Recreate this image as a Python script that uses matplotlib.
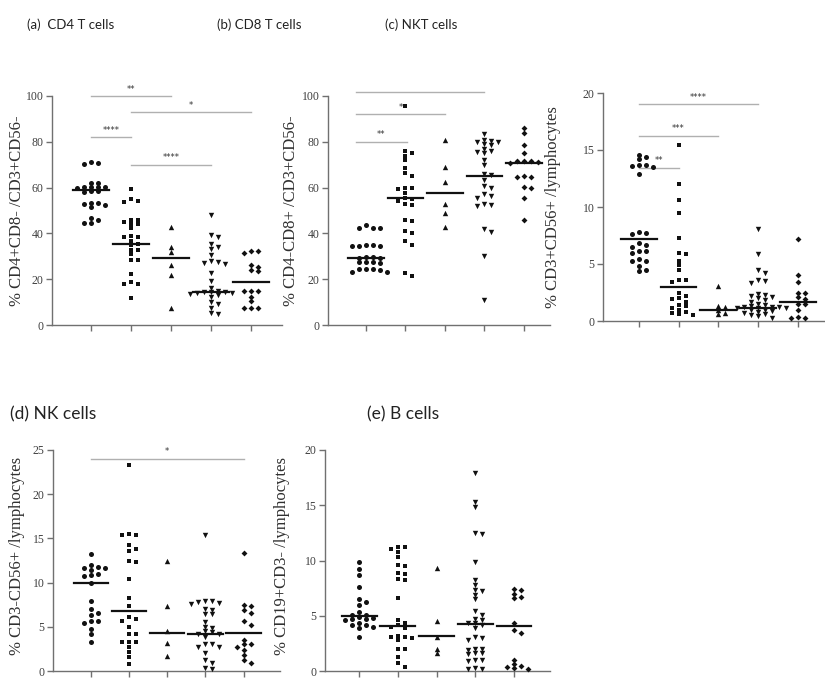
import numpy as np
import matplotlib.pyplot as plt

W, H = 825, 679

markers = ['o', 's', '^', 'v', 'D']
msizes = [13, 12, 15, 15, 9]

# (a) CD4 T cells
cd4_g1 = [71.0, 70.6, 70.3, 62.2, 61.9, 60.3, 60.1, 60.2, 60.0, 60.4, 58.3, 58.2, 58.4,
          53.4, 53.1, 52.8, 52.5, 51.5, 46.6, 45.9, 44.7, 44.5]
cd4_g2 = [59.2, 55.0, 54.0, 53.8, 46.0, 45.9, 45.1, 44.1, 44.0, 42.2, 38.9, 38.6, 38.6,
          36.8, 35.5, 35.0, 32.7, 32.6, 31.0, 28.4, 28.3, 22.1, 18.9, 17.9, 17.8, 11.6]
cd4_g3 = [43.0, 34.2, 32.0, 26.2, 21.8, 7.3]
cd4_g4 = [48.0, 39.5, 38.5, 35.5, 34.0, 33.0, 30.5, 28.0, 27.5, 27.0, 26.5, 22.5, 19.0,
          16.0, 14.8, 14.6, 14.5, 14.2, 14.0, 13.8, 13.5, 13.0, 12.4, 10.2, 9.0, 7.3, 5.1, 5.0]
cd4_g5 = [32.1, 32.2, 31.5, 26.2, 25.5, 24.0, 23.7, 14.8, 14.9, 14.7, 12.4, 10.6, 7.4, 7.5, 7.3]
cd4_medians = [58.8, 35.4, 29.1, 14.6, 18.9]
cd4_bars = [(0, 2, 100.0, '**'), (1, 4, 92.9, '*'), (0, 1, 82.0, '****'), (1, 3, 69.9, '****')]

# (b) CD8 T cells
cd8_g1 = [43.5, 42.5, 42.5, 42.5, 34.8, 34.6, 34.7, 34.5, 34.9, 29.5, 29.6, 29.4, 29.3,
          27.5, 27.6, 27.2, 27.4, 24.5, 24.3, 24.4, 24.2, 23.0, 23.1]
cd8_g2 = [95.5, 76.0, 75.0, 74.0, 72.0, 68.5, 66.5, 65.0, 60.0, 59.5, 60.0, 57.5, 55.5,
          55.0, 54.0, 53.0, 52.5, 46.0, 45.5, 41.0, 40.0, 36.5, 35.0, 22.5, 21.5]
cd8_g3 = [81.0, 69.0, 62.5, 53.0, 49.0, 43.0]
cd8_g4 = [83.5, 80.0, 80.5, 80.0, 81.0, 78.5, 79.0, 77.0, 76.0, 75.5, 75.0, 72.0, 70.0,
          66.0, 65.5, 63.5, 60.5, 60.0, 57.0, 56.5, 55.5, 53.0, 52.5, 52.0, 42.0, 40.5, 30.0, 11.0]
cd8_g5 = [86.0, 84.0, 78.5, 75.0, 71.8, 71.5, 71.6, 71.3, 70.6, 65.0, 64.8, 64.5, 60.2,
          60.0, 55.3, 45.9]
cd8_medians = [29.4, 55.5, 57.5, 65.0, 70.6]
cd8_bars = [(-0.25, 3, 101.9, ''), (-0.25, 2, 92.1, '*'), (-0.25, 1.03, 80.1, '**')]

# (c) NKT cells
nkt_g1 = [14.6, 14.4, 14.2, 13.7, 13.6, 13.7, 13.5, 12.9, 7.8, 7.7, 7.6, 6.8, 6.7, 6.5,
          6.1, 6.0, 6.1, 5.4, 5.3, 5.3, 4.8, 4.5, 4.4]
nkt_g2 = [15.4, 12.0, 10.6, 9.5, 7.3, 6.0, 5.9, 5.3, 4.9, 4.5, 3.6, 3.6, 3.4, 2.5, 2.2,
          2.0, 1.9, 1.7, 1.4, 1.3, 1.1, 1.0, 0.8, 0.7, 0.65, 0.5]
nkt_g3 = [3.05, 1.3, 1.2, 0.95, 0.7, 0.6]
nkt_g4 = [8.1, 5.9, 4.5, 4.2, 3.6, 3.5, 3.3, 2.4, 2.3, 2.2, 2.1, 2.0, 1.8, 1.7, 1.5, 1.4,
          1.3, 1.25, 1.2, 1.2, 1.15, 1.1, 1.1, 1.0, 0.95, 0.9, 0.8, 0.7, 0.6, 0.5, 0.4, 0.3]
nkt_g5 = [7.2, 4.0, 3.4, 2.5, 2.45, 2.1, 1.9, 1.5, 1.5, 1.0, 0.3, 0.35, 0.3]
nkt_medians = [7.16, 3.0, 1.0, 1.15, 1.7]
nkt_bars = [(0, 3, 19.0, '****'), (0, 2, 16.25, '***'), (0, 1, 13.46, '**')]

# (d) NK cells
nk_g1 = [13.2, 12.0, 11.8, 11.7, 11.6, 11.4, 11.0, 10.9, 10.8, 10.0, 7.9, 7.0, 6.6, 6.3,
         5.7, 5.6, 5.4, 4.8, 4.2, 3.3]
nk_g2 = [23.3, 15.4, 15.4, 15.5, 14.2, 13.8, 13.6, 12.5, 12.3, 10.4, 8.3, 7.4, 6.1, 5.9,
         5.7, 5.0, 4.2, 4.2, 3.3, 3.3, 3.3, 2.7, 2.2, 1.6, 0.8]
nk_g3 = [12.4, 7.3, 4.5, 3.2, 1.75]
nk_g4 = [15.4, 7.9, 7.9, 7.8, 7.7, 7.6, 7.0, 6.9, 6.5, 6.4, 5.5, 5.0, 4.9, 4.5, 4.4, 4.2,
         4.2, 3.8, 3.1, 3.0, 2.7, 2.7, 2.0, 1.2, 0.9, 0.3, 0.2]
nk_g5 = [13.3, 7.5, 7.4, 6.9, 6.6, 5.6, 5.2, 3.5, 3.0, 3.1, 2.7, 2.4, 1.8, 1.3, 0.9]
nk_medians = [10.0, 6.8, 4.3, 4.2, 4.3]
nk_bars = [(0, 4, 24.0, '*')]

# (e) B cells
b_g1 = [9.9, 9.2, 8.7, 7.6, 6.5, 6.2, 6.0, 5.3, 5.1, 5.1, 4.9, 4.8, 4.7, 4.7, 4.6, 4.3,
        4.2, 4.2, 4.0, 3.9, 3.1]
b_g2 = [11.2, 11.2, 11.0, 10.8, 10.3, 9.6, 9.5, 8.9, 8.8, 8.3, 8.2, 6.6, 4.6, 4.3, 4.2,
        4.0, 3.9, 3.1, 3.1, 3.2, 3.0, 2.8, 2.0, 2.0, 1.3, 0.7, 0.4]
b_g3 = [9.3, 4.5, 3.1, 2.0, 1.65]
b_g4 = [17.9, 15.3, 14.8, 12.5, 12.4, 9.9, 8.2, 7.8, 7.3, 7.2, 6.9, 6.5, 5.4, 5.1, 4.7,
        4.6, 4.3, 4.2, 4.3, 3.9, 3.1, 3.0, 2.8, 2.0, 2.0, 1.9, 1.6, 1.6, 1.5, 1.0, 1.0, 0.9,
        0.3, 0.2, 0.2]
b_g5 = [7.4, 7.3, 7.0, 6.7, 6.6, 4.3, 3.7, 3.4, 1.0, 0.6, 0.45, 0.4, 0.25, 0.2]
b_medians = [4.95, 4.05, 3.2, 4.26, 4.1]
b_bars = []

panels = [
    dict(title='(a)  CD4 T cells', title_xy=(27, 25), tsize=9.5,
         groups=[cd4_g1, cd4_g2, cd4_g3, cd4_g4, cd4_g5], med=cd4_medians, bars=cd4_bars,
         ylabel='% CD4+CD8- /CD3+CD56-', box=(52, 96, 282, 325), label_at=(25, 0.5),
         ylim=(0, 100), yticks=[0, 20, 40, 60, 80, 100], xlim=(-0.975, 4.775)),
    dict(title='(b) CD8 T cells', title_xy=(217, 25), tsize=9.5,
         groups=[cd8_g1, cd8_g2, cd8_g3, cd8_g4, cd8_g5], med=cd8_medians, bars=cd8_bars,
         ylabel='% CD4-CD8+ /CD3+CD56-', box=(328, 96, 550, 325), label_at=(299, 0.5),
         ylim=(0, 100), yticks=[0, 20, 40, 60, 80, 100], xlim=(-0.96, 4.66)),
    dict(title='(c) NKT cells', title_xy=(385, 25), tsize=9.5,
         groups=[nkt_g1, nkt_g2, nkt_g3, nkt_g4, nkt_g5], med=nkt_medians, bars=nkt_bars,
         ylabel='% CD3+CD56+ /lymphocytes', box=(603, 93, 825, 321), label_at=(561, 0.5),
         ylim=(0, 20), yticks=[0, 5, 10, 15, 20], xlim=(-0.9, 4.68)),
    dict(title='(d) NK cells', title_xy=(10, 414), tsize=12.5,
         groups=[nk_g1, nk_g2, nk_g3, nk_g4, nk_g5], med=nk_medians, bars=nk_bars,
         ylabel='% CD3-CD56+ /lymphocytes', box=(53, 450, 280, 671), label_at=(25, 0.52),
         ylim=(0, 25), yticks=[0, 5, 10, 15, 20, 25], xlim=(-0.99, 4.95)),
    dict(title='(e) B cells', title_xy=(367, 414), tsize=12.5,
         groups=[b_g1, b_g2, b_g3, b_g4, b_g5], med=b_medians, bars=b_bars,
         ylabel='% CD19+CD3- /lymphocytes', box=(325, 450, 550, 671), label_at=(290, 0.52),
         ylim=(0, 20), yticks=[0, 5, 10, 15, 20], xlim=(-0.88, 4.93)),
]


def swarm(vals, ppu_x, ppu_y, dx=7.0, dy=3.8):
    # spread points sideways when they sit too close in value
    vals = np.asarray(vals, dtype=float)
    order = np.argsort(vals)[::-1]
    placed = []
    xs = np.zeros(len(vals))
    for k in order:
        y = vals[k] * ppu_y
        for step in [0, 1, -1, 2, -2, 3, -3, 4, -4, 5, -5]:
            x = step * dx
            if all(abs(x - px) >= dx * 0.9 or abs(y - py) >= dy for px, py in placed):
                break
        placed.append((x, y))
        xs[k] = x / ppu_x
    return xs


fig = plt.figure(figsize=(W / 100, H / 100), dpi=100)
grey = '#707070'

for p in panels:
    l, t, r, b = p['box']
    ax = fig.add_axes([l / W, 1 - b / H, (r - l) / W, (b - t) / H])
    ax.set_xlim(*p['xlim'])
    ax.set_ylim(*p['ylim'])
    ppu_x = (r - l) / (p['xlim'][1] - p['xlim'][0])
    ppu_y = (b - t) / (p['ylim'][1] - p['ylim'][0])

    for i, g in enumerate(p['groups']):
        xs = i + swarm(g, ppu_x, ppu_y)
        ax.scatter(xs, g, marker=markers[i], s=msizes[i], color='#111111',
                   linewidths=0, clip_on=False, zorder=3)
        ax.plot([i - 0.45, i + 0.45], [p['med'][i]] * 2, color='#111111', lw=1.6, zorder=4)

    for x1, x2, y, lab in p['bars']:
        ax.plot([x1, x2], [y, y], color='#b0b0b0', lw=1.0, clip_on=False, zorder=2)
        if lab:
            ax.annotate(lab, xy=((x1 + x2) / 2, y), xytext=(0, 5), textcoords='offset points',
                        ha='center', va='center', fontsize=6, color='#333333',
                        annotation_clip=False)

    for s in ['top', 'right']:
        ax.spines[s].set_visible(False)
    for s in ['left', 'bottom']:
        ax.spines[s].set_color(grey)
        ax.spines[s].set_linewidth(1.0)
    ax.set_xticks(range(5))
    ax.set_xticklabels([])
    ax.set_yticks(p['yticks'])
    ax.set_yticklabels([str(v) for v in p['yticks']], family='Liberation Serif',
                       fontsize=8.5, color='#404040')
    ax.tick_params(direction='out', length=4, width=1, color=grey, pad=2)
    ax.set_ylabel(p['ylabel'], family='Liberation Serif', fontsize=12, color='#303030')
    lx, ly = p['label_at']
    ax.yaxis.set_label_coords((lx - l) / (r - l), ly)

    tx, ty = p['title_xy']
    fig.text(tx / W, 1 - ty / H, p['title'], family='Lato', fontsize=p['tsize'],
             color='#222222', ha='left', va='center')

fig.savefig('out.png', dpi=100, facecolor='white')
